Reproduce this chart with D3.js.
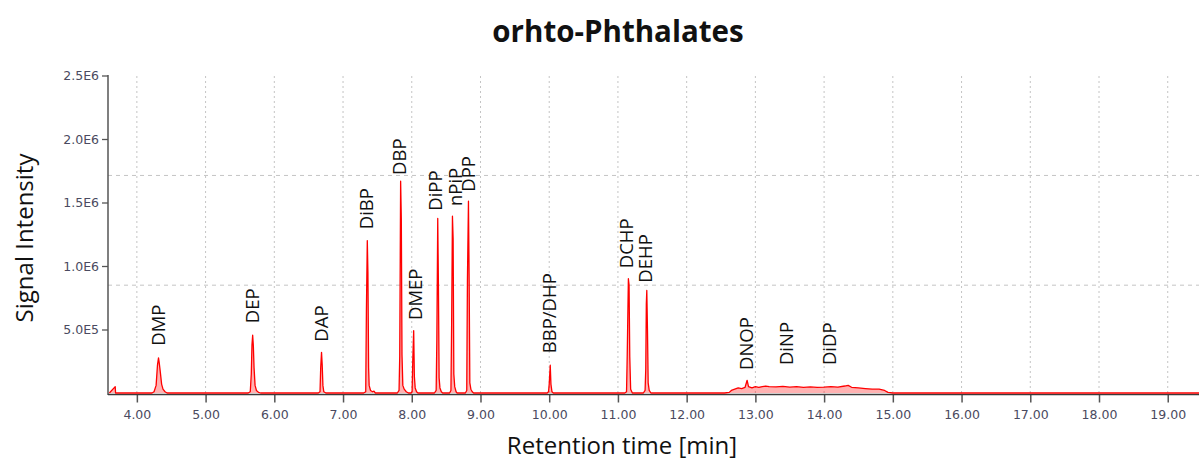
<!DOCTYPE html>
<html>
<head>
<meta charset="utf-8">
<script src="https://cdn.jsdelivr.net/npm/d3@7"></script>
<style>
  html, body { margin: 0; padding: 0; background: #fff; }
  svg { display: block; }
</style>
</head>
<body>
<svg id="chart" width="1199" height="460"></svg>
<script>
// chromatogram: [retention time (min), signal (x1E6)]
var trace = [
  [3.60, 0], [3.685, 0.05], [3.69, 0], [4.22, 0],
  // DMP
  [4.25, 0.01], [4.28, 0.06], [4.30, 0.22], [4.315, 0.277], [4.325, 0.24], [4.34, 0.17],
  [4.36, 0.07], [4.38, 0.03], [4.41, 0.01], [4.44, 0], [5.62, 0],
  // DEP
  [5.65, 0.01], [5.665, 0.15], [5.675, 0.38], [5.685, 0.455], [5.695, 0.37], [5.705, 0.2],
  [5.72, 0.06], [5.74, 0.02], [5.77, 0.005], [5.80, 0], [6.64, 0],
  // DAP
  [6.665, 0.01], [6.675, 0.2], [6.687, 0.32], [6.697, 0.22], [6.707, 0.06], [6.72, 0.01], [6.75, 0],
  [7.30, 0],
  // DiBP
  [7.33, 0.01], [7.34, 0.65], [7.353, 1.2], [7.362, 0.95], [7.372, 0.2], [7.38, 0.06],
  [7.40, 0.02], [7.43, 0.01], [7.45, 0.015], [7.47, 0], [7.79, 0],
  // DBP
  [7.815, 0.02], [7.825, 0.29], [7.838, 1.668], [7.848, 1.37], [7.858, 0.3], [7.87, 0.06],
  [7.89, 0.03], [7.92, 0.01], [7.95, 0], [7.99, 0],
  // DMEP
  [8.005, 0.01], [8.015, 0.26], [8.028, 0.49], [8.038, 0.13], [8.05, 0.04], [8.07, 0.01], [8.09, 0],
  [8.33, 0],
  // DiPP
  [8.355, 0.02], [8.365, 0.42], [8.378, 1.374], [8.388, 0.85], [8.398, 0.12], [8.41, 0.04],
  [8.43, 0.01], [8.45, 0], [8.55, 0],
  // nPiP
  [8.57, 0.02], [8.58, 0.53], [8.592, 1.392], [8.602, 1.21], [8.612, 0.15], [8.625, 0.05],
  [8.645, 0.01], [8.66, 0], [8.78, 0],
  // DPP
  [8.80, 0.02], [8.81, 0.89], [8.825, 1.51], [8.835, 0.89], [8.845, 0.08], [8.86, 0.03],
  [8.88, 0.01], [8.90, 0], [9.97, 0],
  // BBP/DHP
  [9.99, 0.01], [10.0, 0.07], [10.015, 0.219], [10.025, 0.07], [10.04, 0.01], [10.06, 0],
  [11.10, 0],
  // DCHP
  [11.125, 0.01], [11.135, 0.29], [11.152, 0.9], [11.162, 0.85], [11.172, 0.29], [11.185, 0.03],
  [11.21, 0], [11.37, 0],
  // DEHP
  [11.395, 0.02], [11.405, 0.19], [11.413, 0.70], [11.42, 0.807], [11.43, 0.49], [11.44, 0.08],
  [11.455, 0.02], [11.48, 0], [12.55, 0],
  // DNOP / DiNP / DiDP hump
  [12.62, 0.005], [12.65, 0.02], [12.70, 0.03], [12.75, 0.04], [12.80, 0.035], [12.85, 0.045],
  [12.88, 0.10], [12.90, 0.05], [12.95, 0.04], [13.0, 0.05], [13.05, 0.045], [13.1, 0.05],
  [13.15, 0.055], [13.2, 0.05], [13.3, 0.048], [13.4, 0.052], [13.5, 0.046], [13.6, 0.05],
  [13.7, 0.045], [13.8, 0.048], [13.9, 0.044], [14.0, 0.046], [14.1, 0.05], [14.2, 0.047],
  [14.3, 0.055], [14.35, 0.06], [14.4, 0.045], [14.5, 0.04], [14.6, 0.035], [14.7, 0.03],
  [14.8, 0.03], [14.88, 0.02], [14.93, 0.005], [15.0, 0], [19.46, 0]
];

var peakNames = ["DMP", "DEP", "DAP", "DiBP", "DBP", "DMEP", "DiPP", "nPiP", "DPP",
                 "BBP/DHP", "DCHP", "DEHP", "DNOP", "DiNP", "DiDP"];
var labelTime = [4.31, 5.68, 6.68, 7.346, 7.82, 8.05, 8.34, 8.63, 8.82,
                 10.01, 11.12, 11.40, 12.87, 13.46, 14.08];
var labelLevel = [0.372, 0.549, 0.404, 1.289, 1.717, 0.575, 1.435, 1.472, 1.585,
                  0.313, 0.982, 0.869, 0.181, 0.22, 0.22];

var xTicks = [4, 5, 6, 7, 8, 9, 10, 11, 12, 13, 14, 15, 16, 17, 18, 19];
var yTicks = [0.5, 1.0, 1.5, 2.0, 2.5];
var yGrid = [0.849, 1.713];

var svg = d3.select("#chart");
var x = d3.scaleLinear().domain([3.58, 19.455]).range([108, 1199]);
var y = d3.scaleLinear().domain([0, 2.5]).range([393, 75.5]);

// grid
svg.append("g").selectAll("line").data(xTicks).enter().append("line")
  .attr("x1", function (d) { return x(d); }).attr("x2", function (d) { return x(d); })
  .attr("y1", 76).attr("y2", 393)
  .attr("stroke", "#c4c4c4").attr("stroke-width", 1).attr("stroke-dasharray", "2,3");
svg.append("g").selectAll("line").data(yGrid).enter().append("line")
  .attr("x1", 108).attr("x2", 1199)
  .attr("y1", function (d) { return y(d); }).attr("y2", function (d) { return y(d); })
  .attr("stroke", "#c4c4c4").attr("stroke-width", 1).attr("stroke-dasharray", "4,4");

// axes
var yAxis = svg.append("g").attr("transform", "translate(108,0)")
  .call(d3.axisLeft(y).tickValues(yTicks).tickSize(6).tickPadding(3)
    .tickFormat(function (d) { return (d * 1e6).toExponential(1).toUpperCase().replace("+", ""); }));
yAxis.select(".domain").remove();
yAxis.selectAll("line").attr("stroke", "#555").attr("stroke-width", 1.3);
yAxis.selectAll("text").attr("fill", "#4a4a60").style("font-family", "DejaVu Sans, sans-serif")
  .style("font-size", "12.5px");
svg.append("line").attr("x1", 108).attr("x2", 108).attr("y1", 75).attr("y2", 395)
  .attr("stroke", "#555").attr("stroke-width", 1.5);

var xAxis = svg.append("g").attr("transform", "translate(0,394.5)")
  .call(d3.axisBottom(x).tickValues(xTicks).tickSize(8).tickPadding(8)
    .tickFormat(d3.format(".2f")));
xAxis.select(".domain").remove();
xAxis.selectAll("line").attr("stroke", "#555").attr("stroke-width", 1.5);
xAxis.selectAll("text").attr("fill", "#4a4a60").style("font-family", "DejaVu Sans, sans-serif")
  .style("font-size", "12.5px");

// signal
var area = d3.area().x(function (d) { return x(d[0]); })
  .y0(y(0)).y1(function (d) { return y(d[1]); });
var line = d3.line().x(function (d) { return x(d[0]); }).y(function (d) { return y(d[1]); });
svg.append("path").datum(trace).attr("d", area).attr("fill", "rgba(255,0,0,0.3)");
svg.append("line").attr("x1", 108).attr("x2", 1199).attr("y1", 394.5).attr("y2", 394.5)
  .attr("stroke", "#3a3a3a").attr("stroke-width", 1.6);
svg.append("path").datum(trace).attr("d", line).attr("fill", "none")
  .attr("stroke", "#ff0000").attr("stroke-width", 1.3).attr("stroke-linejoin", "round");

// peak labels
svg.append("g").selectAll("text").data(peakNames).enter().append("text")
  .attr("transform", function (d, i) {
    return "translate(" + x(labelTime[i]) + "," + y(labelLevel[i]) + ") rotate(-90)";
  })
  .attr("dy", "0.35em")
  .style("font-family", "Open Sans, sans-serif").style("font-size", "18.5px")
  .attr("fill", "#111").text(function (d) { return d; });

// titles
svg.append("text").attr("x", 618).attr("y", 42).attr("text-anchor", "middle")
  .style("font-family", "Open Sans, sans-serif").style("font-size", "29.5px").style("font-weight", "bold")
  .attr("fill", "#111").text("orhto-Phthalates");
svg.append("text").attr("x", 622).attr("y", 454).attr("text-anchor", "middle")
  .style("font-family", "Open Sans, sans-serif").style("font-size", "24px")
  .attr("fill", "#111").text("Retention time [min]");
svg.append("text").attr("transform", "translate(33,238) rotate(-90)").attr("text-anchor", "middle")
  .style("font-family", "Open Sans, sans-serif").style("font-size", "24px")
  .attr("fill", "#111").text("Signal Intensity");
</script>
</body>
</html>
